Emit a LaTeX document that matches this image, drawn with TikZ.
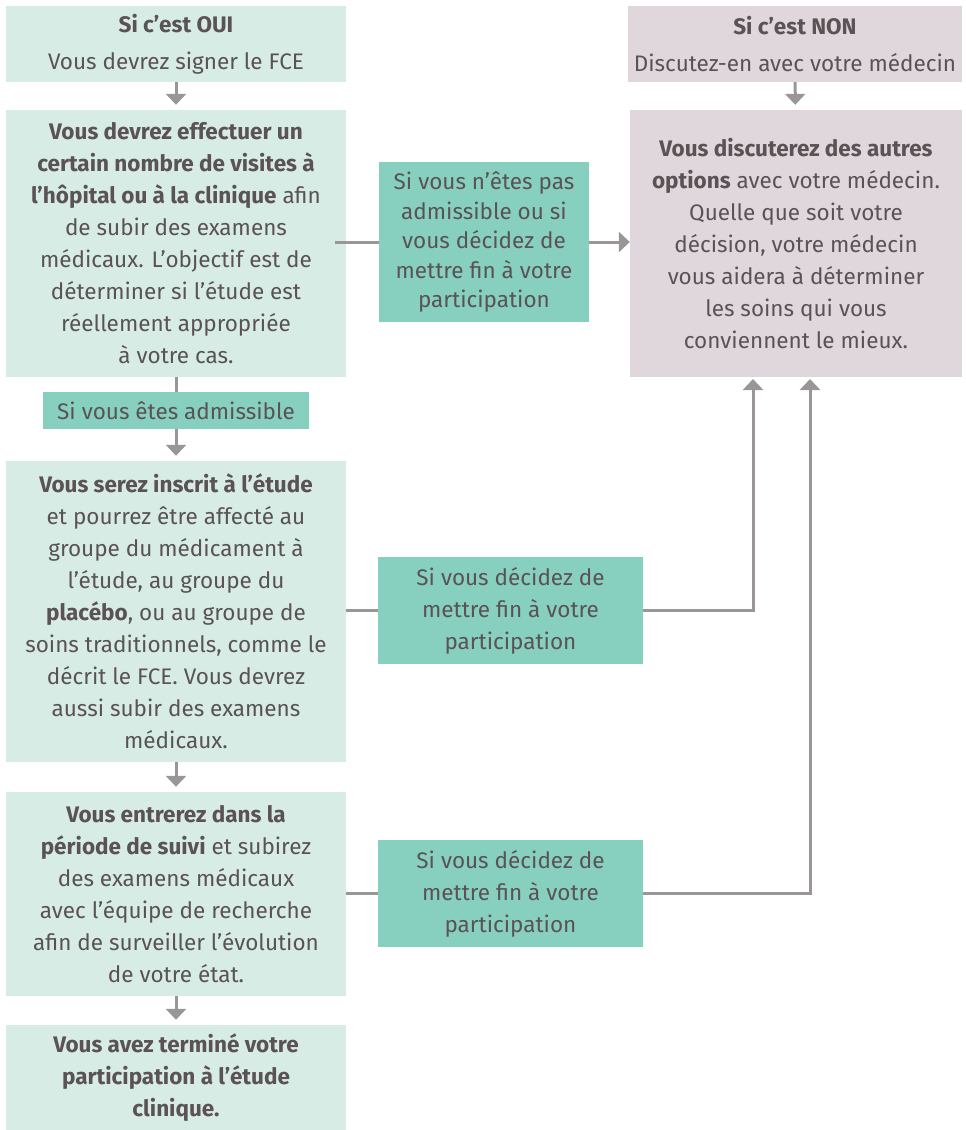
\documentclass[tikz,border=0pt]{standalone}
\usepackage{fontspec}
\setmainfont{Fira Sans}
\usetikzlibrary{arrows.meta,calc}
\definecolor{lgreen}{HTML}{D7ECE4}
\definecolor{mteal}{HTML}{87D0C0}
\definecolor{mauve}{HTML}{E0D7DC}
\definecolor{txt}{HTML}{5A5254}
\definecolor{arr}{HTML}{9A9696}
\tikzset{
  base/.style={inner sep=0pt, align=center, text=txt, font=\fontsize{22.5}{32}\selectfont},
  gbox/.style={base, fill=lgreen, minimum width=340pt},
  tbox/.style={base, fill=mteal},
  mbox/.style={base, fill=mauve},
  conn/.style={draw=arr, line width=3pt},
  arrow/.style={conn, -{Triangle[width=20pt,length=11pt]}},
}
\begin{document}
\begin{tikzpicture}[x=1pt,y=-1pt]
\useasboundingbox (0,0) rectangle (966,1130);
\node[gbox, minimum height=76pt, font=\fontsize{22.5}{37}\selectfont] (A) at (176,44) {\textbf{Si c’est OUI}\\Vous devrez signer le FCE};
\node[gbox, minimum height=267pt] (B) at (176,243.5) {\textbf{Vous devrez effectuer un}\\\textbf{certain nombre de visites à}\\\textbf{l’hôpital ou à la clinique} afin\\de subir des examens\\médicaux. L’objectif est de\\déterminer si l’étude est\\réellement appropriée\\à votre cas.};
\node[tbox, minimum width=266pt, minimum height=37pt] (L) at (176,410.5) {Si vous êtes admissible};
\node[gbox, minimum height=301pt] (C) at (176,611.5) {\textbf{Vous serez inscrit à l’étude}\\et pourrez être affecté au\\groupe du médicament à\\l’étude, au groupe du\\\textbf{placébo}, ou au groupe de\\soins traditionnels, comme le\\décrit le FCE. Vous devrez\\aussi subir des examens\\médicaux.};
\node[gbox, minimum height=204pt] (D) at (176,894) {\textbf{Vous entrerez dans la}\\\textbf{période de suivi} et subirez\\des examens médicaux\\avec l’équipe de recherche\\afin de surveiller l’évolution\\de votre état.};
\node[gbox, minimum height=105pt] (E) at (176,1077.5) {\textbf{Vous avez terminé votre}\\\textbf{participation à l’étude}\\\textbf{clinique.}};
\node[mbox, minimum width=334pt, minimum height=76pt, font=\fontsize{22.5}{37}\selectfont] (N1) at (795,44) {\textbf{Si c’est NON}\\Discutez-en avec votre médecin};
\node[mbox, minimum width=332pt, minimum height=267pt] (N2) at (796,243.5) {\textbf{Vous discuterez des autres}\\\textbf{options} avec votre médecin.\\Quelle que soit votre\\décision, votre médecin\\vous aidera à déterminer\\les soins qui vous\\conviennent le mieux.};
\node[tbox, minimum width=210pt, minimum height=160pt, font=\fontsize{22.5}{29.5}\selectfont] (M1) at (484,242) {Si vous n’êtes pas\\admissible ou si\\vous décidez de\\mettre fin à votre\\participation};
\node[tbox, minimum width=265pt, minimum height=107pt] (M2) at (510.5,610.5) {Si vous décidez de\\mettre fin à votre\\participation};
\node[tbox, minimum width=265pt, minimum height=107pt] (M3) at (510.5,893.5) {Si vous décidez de\\mettre fin à votre\\participation};
\coordinate (t2) at (753,377);
\coordinate (t3) at (810,377);
\draw[arrow, shorten >=5pt] (A) -- (B);
\draw[conn] (B) -- (L);
\draw[arrow, shorten >=5pt] (L) -- (C);
\draw[arrow, shorten >=5pt] (C) -- (D);
\draw[arrow, shorten >=5pt] (D) -- (E);
\draw[arrow, shorten >=5pt] (N1) -- (N2);
\draw[conn] ($(M1.west -| B.east)+(-11,0)$) -- (M1.west);
\draw[arrow] (M1.east) -- (M1.east -| N2.west);
\draw[conn] (M2.west -| C.east) -- (M2.west);
\draw[arrow, shorten >=2pt] (M2.east) -| (t2);
\draw[conn] (M3.west -| D.east) -- (M3.west);
\draw[arrow, shorten >=2pt] (M3.east) -| (t3);
\end{tikzpicture}
\end{document}
